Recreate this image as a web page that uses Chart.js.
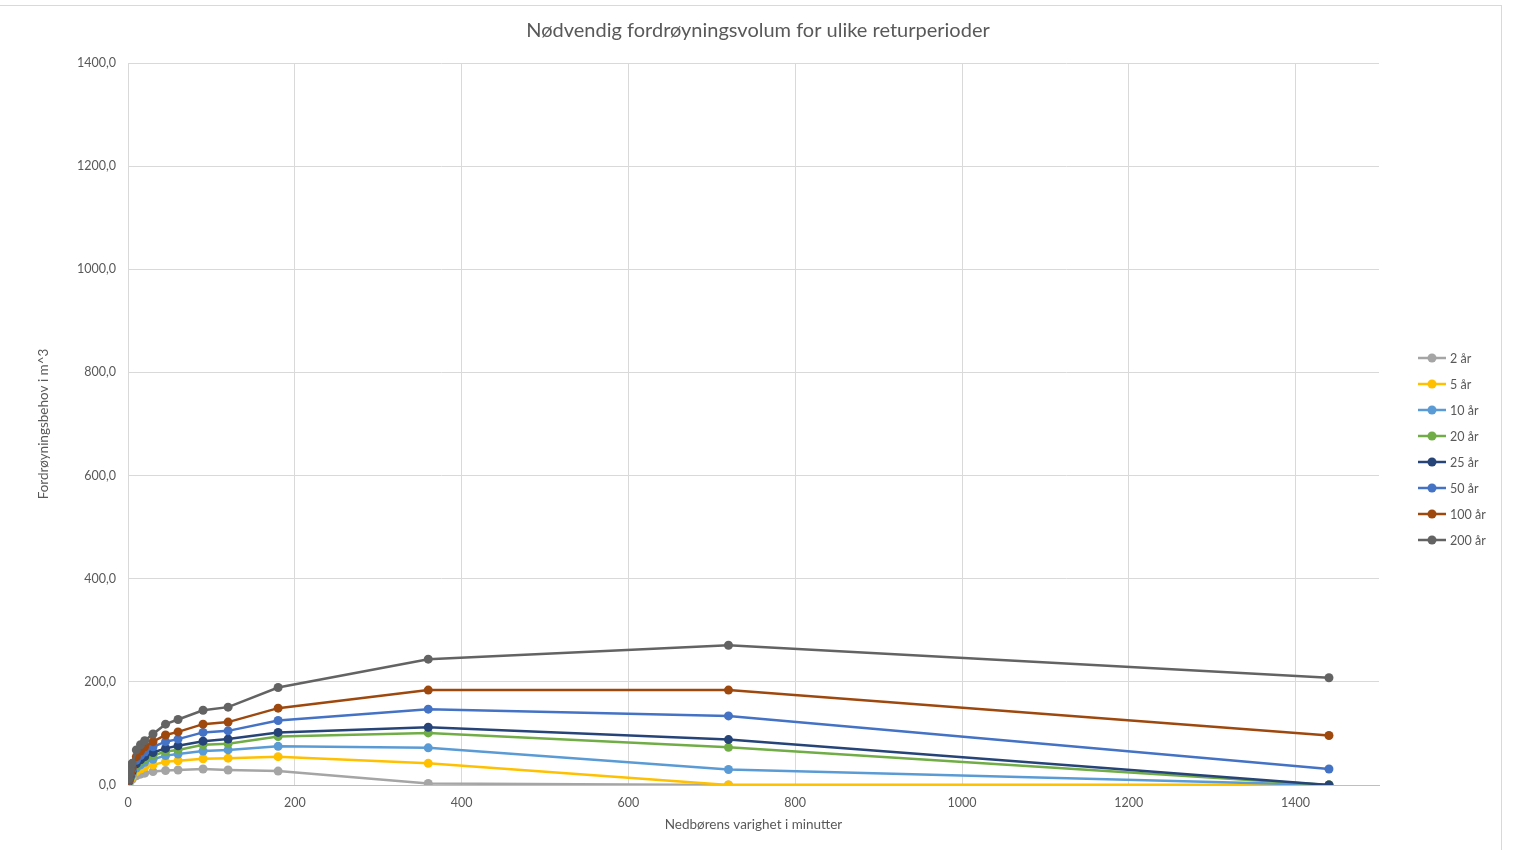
<!DOCTYPE html>
<html lang="no">
<head>
<meta charset="utf-8">
<title>Nødvendig fordrøyningsvolum for ulike returperioder</title>
<script src="https://cdn.jsdelivr.net/npm/chart.js@4.4.1/dist/chart.umd.min.js"></script>
<style>
  html, body { margin: 0; padding: 0; background: #ffffff; overflow: hidden; }
  #wrap { position: relative; width: 1519px; height: 850px; }
  #frame { position: absolute; left: -10px; top: 5px; width: 1512px; height: 900px;
           border: 1px solid #d9d9d9; box-sizing: border-box; pointer-events: none; }
  canvas { position: absolute; left: 0; top: 0; }
</style>
</head>
<body>
<div id="wrap">
  <canvas id="chart" width="1519" height="850"></canvas>
  <div id="frame"></div>
</div>
<script>
// Nedbørens varighet (minutter)
const durations = [1, 2, 3, 5, 10, 15, 20, 30, 45, 60, 90, 120, 180, 360, 720, 1440];

// Nødvendig fordrøyningsvolum (m^3) per returperiode
const r2   = [3, 6, 8, 11, 18, 21, 23, 26, 28, 29, 31, 29, 27, 3, 0, 0];
const r5   = [4, 8, 11, 16, 26, 31, 35, 39, 45, 47, 51, 52, 55, 42, 0, 0];
const r10  = [5, 10, 14, 20, 33, 39, 44, 50, 57, 60, 66, 68, 75, 72, 30, 0];
const r20  = [6, 12, 17, 24, 38, 45, 50, 57, 65, 68, 78, 80, 94, 101, 73, 0];
const r25  = [7, 13, 18, 26, 41, 49, 55, 63, 71, 76, 85, 89, 102, 112, 88, 0];
const r50  = [8, 15, 21, 30, 48, 57, 64, 74, 84, 89, 102, 105, 125, 147, 134, 31];
const r100 = [9, 17, 24, 34, 55, 66, 74, 84, 97, 103, 118, 122, 149, 184, 184, 96];
const r200 = [12, 22, 30, 42, 68, 78, 86, 99, 118, 127, 145, 151, 189, 244, 271, 208];

const seriesNames = ['2 år', '5 år', '10 år', '20 år', '25 år', '50 år', '100 år', '200 år'];
const seriesValues = [r2, r5, r10, r20, r25, r50, r100, r200];
const seriesColors = ['#A5A5A5', '#FFC000', '#5B9BD5', '#70AD47', '#264478', '#4472C4', '#9E480E', '#636363'];

const yTicks = [0, 200, 400, 600, 800, 1000, 1200, 1400];
const xTicks = [0, 200, 400, 600, 800, 1000, 1200, 1400];

const chartTitle = 'Nødvendig fordrøyningsvolum for ulike returperioder';

const FONT = 'Lato, "Open Sans", "Liberation Sans", sans-serif';
const TEXT = '#595959';

const datasets = seriesNames.map((name, i) => ({
  label: name,
  data: durations.map((d, k) => ({ x: d, y: seriesValues[i][k] })),
  borderColor: seriesColors[i],
  backgroundColor: seriesColors[i],
  pointBackgroundColor: seriesColors[i],
  pointBorderColor: seriesColors[i],
  borderWidth: 2.5,
  pointRadius: 4.5,
  pointBorderWidth: 0,
  showLine: true,
  tension: 0,
  // later series are drawn on top
  order: seriesNames.length - i
}));

// Legend on the right: short line with a marker, then the label
const sideLegend = {
  id: 'sideLegend',
  afterDraw(chart) {
    const ctx = chart.ctx;
    const x0 = chart.chartArea.right + 39;
    const y0 = 358;
    const step = 26;
    ctx.save();
    ctx.font = '12.5px ' + FONT;
    ctx.textBaseline = 'middle';
    ctx.textAlign = 'left';
    seriesNames.forEach((name, i) => {
      const y = y0 + i * step;
      ctx.strokeStyle = seriesColors[i];
      ctx.lineWidth = 2.5;
      ctx.beginPath();
      ctx.moveTo(x0, y);
      ctx.lineTo(x0 + 28, y);
      ctx.stroke();
      ctx.fillStyle = seriesColors[i];
      ctx.beginPath();
      ctx.arc(x0 + 14, y, 4.5, 0, Math.PI * 2);
      ctx.fill();
      ctx.fillStyle = TEXT;
      ctx.fillText(name, x0 + 32, y + 1);
    });
    ctx.restore();
  }
};

// Heading centred above the plot
const heading = {
  id: 'heading',
  afterDraw(chart) {
    const ctx = chart.ctx;
    ctx.save();
    ctx.font = '20px ' + FONT;
    ctx.fillStyle = TEXT;
    ctx.textAlign = 'center';
    ctx.textBaseline = 'middle';
    ctx.fillText(chartTitle, 758, 31);
    ctx.restore();
  }
};

new Chart(document.getElementById('chart'), {
  type: 'scatter',
  data: { datasets },
  plugins: [sideLegend, heading],
  options: {
    responsive: false,
    animation: false,
    layout: { padding: { top: 63, right: 140, left: 0, bottom: 0 } },
    plugins: {
      legend: { display: false },
      tooltip: { enabled: false },
      title: { display: false }
    },
    scales: {
      x: {
        type: 'linear',
        min: 0,
        max: 1500,
        afterBuildTicks(scale) { scale.ticks = xTicks.map(v => ({ value: v })); },
        afterFit(scale) { scale.height = 65; },
        grid: { color: '#d9d9d9', lineWidth: 1, drawTicks: false },
        border: { color: '#bfbfbf', width: 1 },
        ticks: { color: TEXT, font: { family: FONT, size: 12.5 }, padding: 10,
                 callback: v => String(v) },
        title: { display: true, text: 'Nedbørens varighet i minutter', color: TEXT,
                 font: { family: FONT, size: 13.5 }, padding: 17 }
      },
      y: {
        type: 'linear',
        min: 0,
        max: 1400,
        afterBuildTicks(scale) { scale.ticks = yTicks.map(v => ({ value: v })); },
        afterFit(scale) { scale.width = 128; },
        grid: { color: '#d9d9d9', lineWidth: 1, drawTicks: false },
        border: { color: '#d9d9d9', width: 1 },
        ticks: { color: TEXT, font: { family: FONT, size: 12.5 }, padding: 12,
                 callback: v => Number(v).toFixed(1).replace('.', ',') },
        title: { display: true, text: 'Fordrøyningsbehov i m^3', color: TEXT,
                 font: { family: FONT, size: 13.5 }, padding: { top: 36, bottom: 0 } }
      }
    }
  }
});
</script>
</body>
</html>
